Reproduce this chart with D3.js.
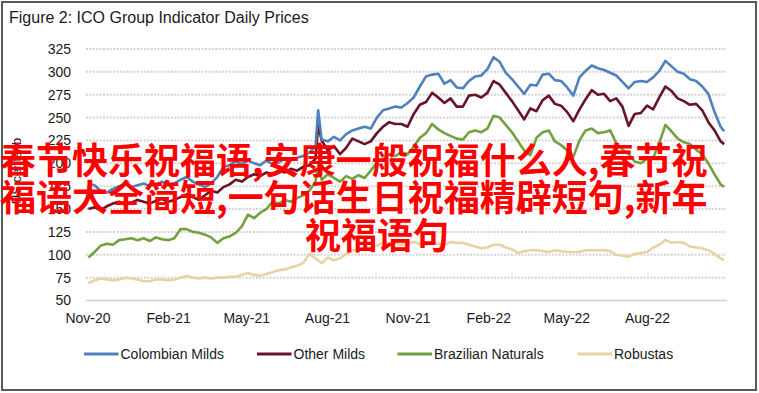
<!DOCTYPE html>
<html><head><meta charset="utf-8">
<script src="https://cdn.jsdelivr.net/npm/d3@7"></script>
<style>html,body{margin:0;padding:0;background:#fff;}svg{display:block;}</style>
</head><body>
<svg id="chart" width="759" height="393"></svg>
<script>
const title = "Figure 2: ICO Group Indicator Daily Prices";
const yLabel = "US cents/lb";
const overlayLines = ["春节快乐祝福语,安康一般祝福什么人,春节祝", "福语大全简短,一句话生日祝福精辟短句,新年", "祝福语句"];
const yTicks = [50, 75, 100, 125, 150, 175, 200, 225, 250, 275, 300, 325];
const xTicks = ["2020-11-01","2021-02-01","2021-05-01","2021-08-01","2021-11-01","2022-02-01","2022-05-01","2022-08-01"];
const seriesNames = ["Colombian Milds", "Other Milds", "Brazilian Naturals", "Robustas"];
const seriesColors = ["#4f81bd", "#6a1428", "#72a23f", "#e8d4a2"];

const dates = [
"2020-11-02","2020-11-09","2020-11-16","2020-11-23","2020-11-30","2020-12-07","2020-12-14","2020-12-21","2020-12-28",
"2021-01-04","2021-01-11","2021-01-18","2021-01-25","2021-02-01","2021-02-08","2021-02-15","2021-02-22","2021-03-01",
"2021-03-08","2021-03-15","2021-03-22","2021-03-29","2021-04-05","2021-04-12","2021-04-19","2021-04-26","2021-05-03",
"2021-05-10","2021-05-17","2021-05-24","2021-05-31","2021-06-07","2021-06-14","2021-06-21","2021-06-28","2021-07-05",
"2021-07-12","2021-07-19","2021-07-22","2021-07-26","2021-08-02","2021-08-09","2021-08-16","2021-08-23","2021-08-30",
"2021-09-06","2021-09-13","2021-09-20","2021-09-27","2021-10-04","2021-10-11","2021-10-18","2021-10-25","2021-11-01",
"2021-11-08","2021-11-15","2021-11-22","2021-11-29","2021-12-06","2021-12-13","2021-12-20","2021-12-27","2022-01-03",
"2022-01-10","2022-01-17","2022-01-24","2022-01-31","2022-02-07","2022-02-14","2022-02-21","2022-02-28","2022-03-07",
"2022-03-14","2022-03-21","2022-03-28","2022-04-04","2022-04-11","2022-04-18","2022-04-25","2022-05-02","2022-05-09",
"2022-05-16","2022-05-23","2022-05-30","2022-06-06","2022-06-13","2022-06-20","2022-06-27","2022-07-04","2022-07-11",
"2022-07-18","2022-07-25","2022-08-01","2022-08-08","2022-08-15","2022-08-22","2022-08-29","2022-09-05","2022-09-12",
"2022-09-19","2022-09-26","2022-10-03","2022-10-10","2022-10-17","2022-10-24","2022-10-28"];

const colombianMilds = [
178,176,170,168,172,175,177,174,176,178,175,177,180,176,178,182,185,180,177,174,178,185,196,198,202,199,203,200,198,203,
199,201,205,203,206,208,212,218,258,226,224,229,225,232,236,238,240,238,250,258,260,262,261,266,272,284,295,297,298,287,
291,283,282,290,295,296,303,316,311,299,292,284,276,286,285,297,298,291,290,283,274,294,301,307,304,302,299,296,289,282,
289,290,289,294,301,312,306,300,298,292,290,284,276,256,240,235];

const otherMilds = [
150,152,149,153,156,158,155,157,160,158,156,159,161,158,160,163,166,163,160,165,170,168,174,177,182,180,185,188,186,190,
188,192,190,194,192,196,198,205,242,225,214,219,210,217,227,224,221,224,233,240,245,243,243,240,254,264,267,277,272,266,
271,262,262,274,275,272,277,290,286,277,268,258,248,260,257,269,274,265,263,256,246,259,270,280,275,276,268,271,262,241,
254,255,263,259,272,284,279,271,268,264,265,258,245,236,224,221];

const brazilianNaturals = [
97,103,110,112,111,116,117,118,116,118,115,119,117,116,118,128,128,125,124,122,119,113,118,120,124,131,144,140,146,150,
158,156,160,158,162,165,170,180,198,182,188,184,180,186,183,187,184,192,201,205,210,208,212,210,218,228,233,243,237,233,
230,227,226,234,236,234,238,252,250,242,234,224,214,209,228,234,236,224,220,214,207,225,236,238,233,234,236,222,215,210,
202,200,205,206,222,242,235,227,223,221,215,210,200,188,177,174];

const robustas = [
69,72,74,73,72,73,75,74,73,71,71,73,73,72,73,75,77,75,74,75,74,75,75,76,76,78,80,78,77,79,
81,83,84,86,88,91,101,96,94,91,97,94,96,101,105,105,107,108,110,113,112,113,111,113,114,112,111,113,112,111,
114,113,113,111,109,107,108,111,111,108,106,102,104,105,105,104,103,105,104,103,103,103,105,105,105,105,104,100,99,98,
101,102,103,108,111,116,113,114,113,109,108,107,105,101,96,94];

const seriesValues = [colombianMilds, otherMilds, brazilianNaturals, robustas];

const parse = d3.timeParse("%Y-%m-%d");
const svg = d3.select("#chart");
const W = 759, H = 393;
svg.append("rect").attr("width", W).attr("height", H).attr("fill", "#fff");
svg.append("rect").attr("x", 2).attr("y", 2).attr("width", 754).attr("height", 388)
  .attr("fill", "none").attr("stroke", "#595959").attr("stroke-width", 2);

const font = "'Liberation Sans', Arial, sans-serif";
svg.append("text").attr("x", 9).attr("y", 23).attr("font-family", font).attr("font-size", 16)
  .attr("fill", "#1a1a1a").text(title);

const x = d3.scaleTime().domain([parse("2020-11-01"), parse("2022-10-31")]).range([87.5, 726.8]);
const y = d3.scaleLinear().domain([50, 325]).range([300.5, 49]);

// gridlines
svg.append("g").selectAll("line").data(yTicks.filter(v => v > 50)).join("line")
  .attr("x1", 86).attr("x2", 726).attr("y1", d => y(d)).attr("y2", d => y(d))
  .attr("stroke", "#d4d4d4").attr("stroke-width", 2).attr("stroke-dasharray", "2,1.4");

// y axis
const yAxis = d3.axisLeft(y).tickValues(yTicks).tickSize(0).tickPadding(0);
const gy = svg.append("g").attr("transform", "translate(71,0)").call(yAxis);
gy.select(".domain").remove();
gy.selectAll("text").attr("font-family", font).attr("font-size", 14).attr("fill", "#1a1a1a");

// x axis
const xAxis = d3.axisBottom(x).tickValues(xTicks.map(parse)).tickFormat(d3.timeFormat("%b-%y")).tickSize(0).tickPadding(0);
const gx = svg.append("g").attr("transform", "translate(0,300.5)").call(xAxis);
gx.select(".domain").attr("stroke", "#d0d0d0").attr("stroke-width", 1.5).attr("d", "M86,0H727");
gx.selectAll("text").attr("font-family", font).attr("font-size", 14).attr("fill", "#1a1a1a").attr("dy", "1.6em");

svg.append("text").attr("transform", "translate(21,171) rotate(-90)").attr("text-anchor", "middle")
  .attr("font-family", font).attr("font-size", 13).attr("fill", "#1a1a1a").text(yLabel);

// lines
const parsedDates = dates.map(parse);
const line = d3.line().x((d, i) => x(parsedDates[i])).y(d => y(d));
const order = [3, 2, 1, 0];
order.forEach(k => {
  svg.append("path").datum(seriesValues[k]).attr("d", line).attr("fill", "none")
    .attr("stroke", seriesColors[k]).attr("stroke-width", 2.6).attr("stroke-linejoin", "round");
});

// legend
const legendX = [84, 257, 397.5, 577.5];
const lg = svg.append("g");
seriesNames.forEach((n, k) => {
  lg.append("line").attr("x1", legendX[k]).attr("x2", legendX[k] + 34.5).attr("y1", 354).attr("y2", 354)
    .attr("stroke", seriesColors[k]).attr("stroke-width", 3);
  lg.append("text").attr("x", legendX[k] + 36.5).attr("y", 359).attr("font-family", font).attr("font-size", 14)
    .attr("fill", "#1a1a1a").text(n);
});

// overlay text
const cjk = "'Noto Sans CJK SC', sans-serif";
const ov = svg.append("g").attr("font-family", cjk).attr("font-weight", "bold").attr("font-size", 36).attr("fill", "#ff0000");
ov.append("text").attr("x", 0).attr("y", 174).text(overlayLines[0]);
ov.append("text").attr("x", 0).attr("y", 211).text(overlayLines[1]);
ov.append("text").attr("x", 377).attr("y", 249).attr("text-anchor", "middle").text(overlayLines[2]);
</script>
</body></html>
